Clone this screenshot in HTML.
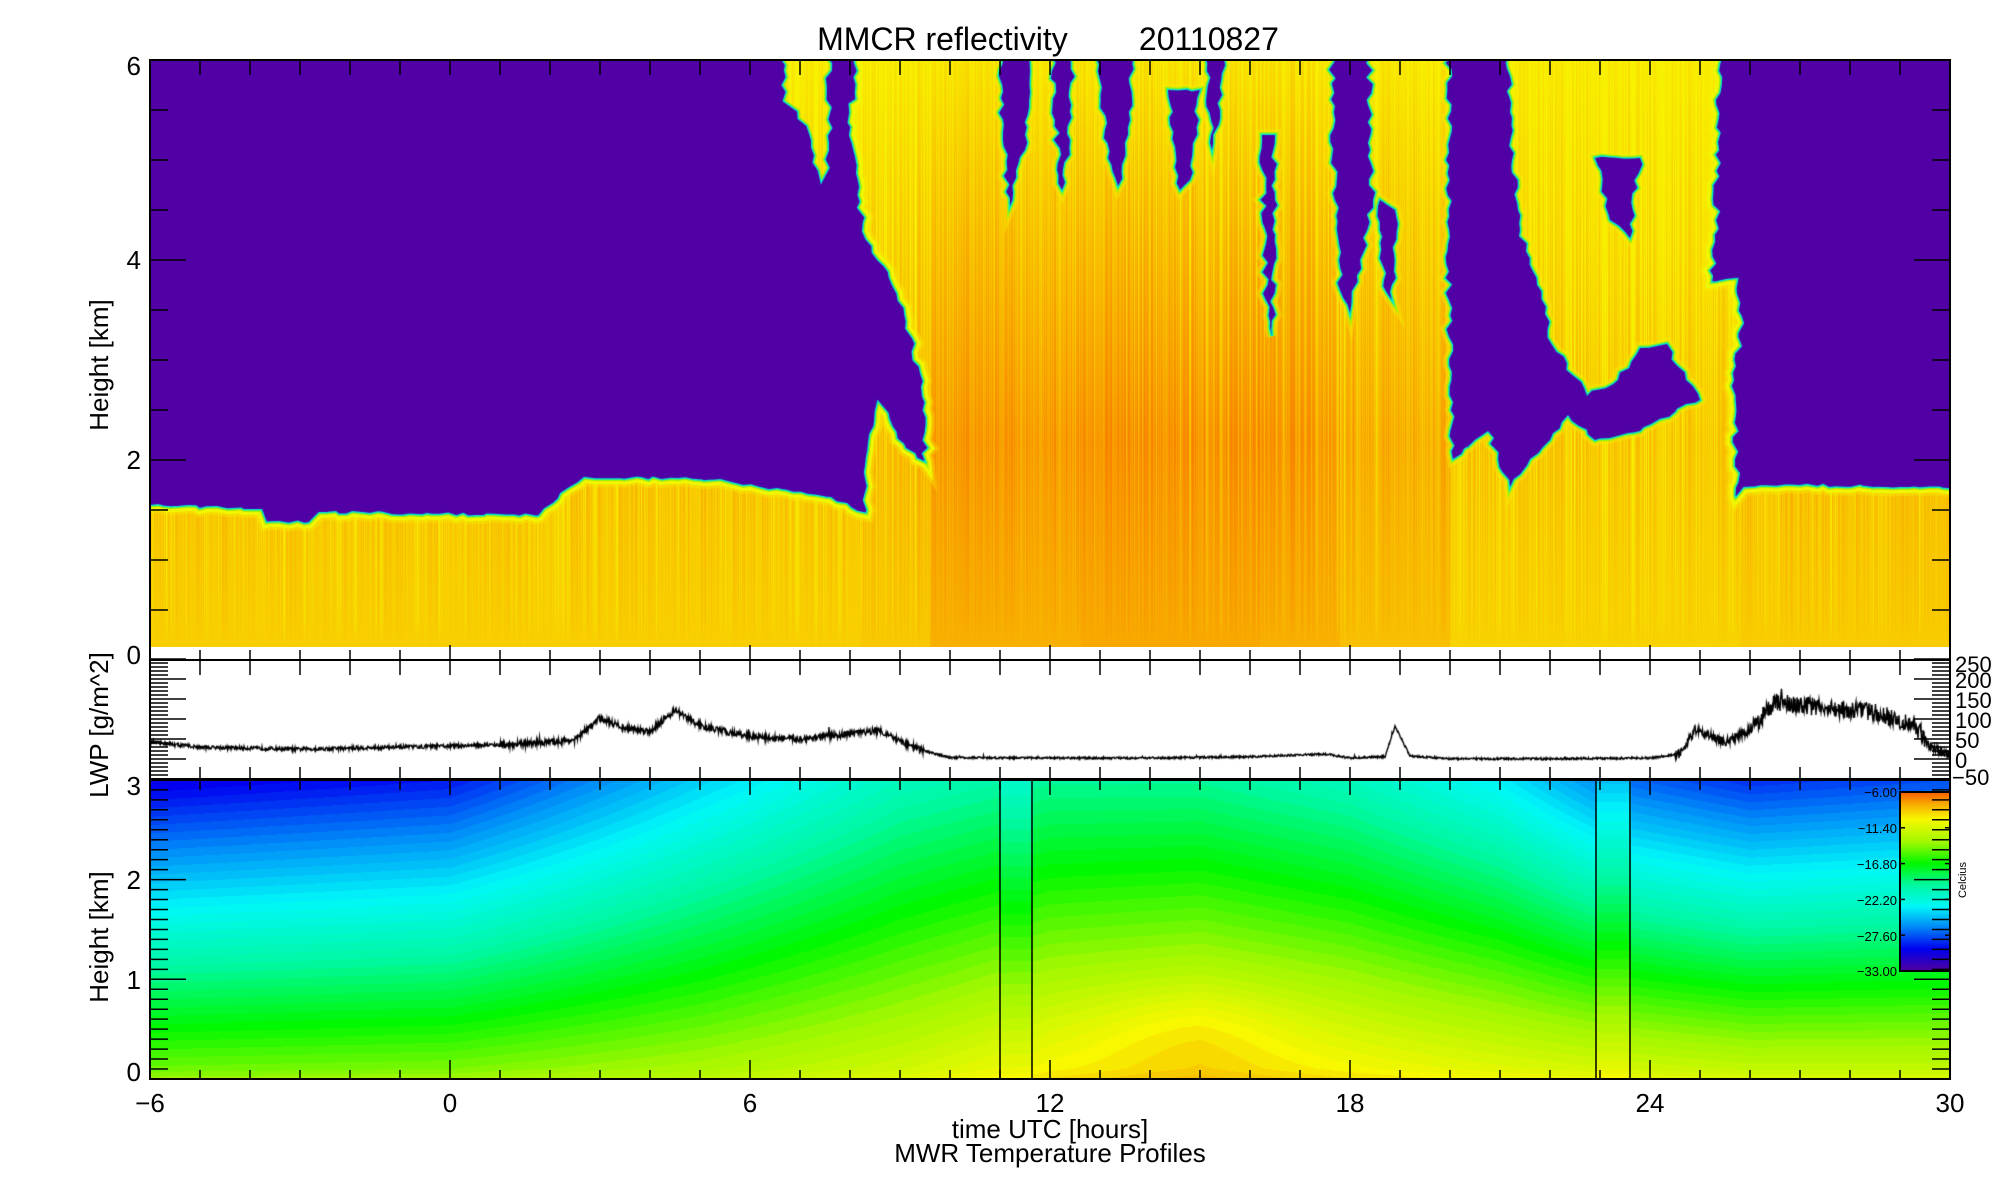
<!DOCTYPE html>
<html><head><meta charset="utf-8">
<style>
html,body{margin:0;padding:0;background:#fff;}
#wrap{position:relative;width:2000px;height:1200px;overflow:hidden;background:#fff;font-family:"Liberation Sans",sans-serif;}
canvas{position:absolute;}
svg{position:absolute;left:0;top:0;}
</style></head><body>
<div id="wrap">
<canvas id="top" width="1800" height="587" style="left:150px;top:60px"></canvas>
<canvas id="lwp" width="1800" height="119" style="left:150px;top:660px"></canvas>
<canvas id="tmp" width="1800" height="299" style="left:150px;top:780px"></canvas>
<canvas id="cb" width="50" height="179" style="left:1900px;top:792px"></canvas>
<svg width="2000" height="1200" xmlns="http://www.w3.org/2000/svg" font-family="Liberation Sans, sans-serif">
<g id="ticks" stroke="#000" stroke-width="1.5"></g>
<g fill="none" stroke="#000" stroke-width="2">
<rect x="150" y="60" width="1800" height="600"/>
<rect x="150" y="660" width="1800" height="119"/>
<rect x="150" y="780" width="1800" height="299"/>
<rect x="1900" y="792" width="50" height="179"/>
</g>
<g stroke="#000" stroke-width="1.5">
<line x1="1000" y1="780" x2="1000" y2="1079"/><line x1="1032" y1="780" x2="1032" y2="1079"/>
<line x1="1596" y1="780" x2="1596" y2="1079"/><line x1="1630" y1="780" x2="1630" y2="1079"/>
</g>
<text x="1048" y="50" font-size="32" text-anchor="middle" xml:space="preserve">MMCR reflectivity        20110827</text>
<g font-size="26" text-anchor="end">
<text x="141" y="75">6</text><text x="141" y="269">4</text><text x="141" y="469">2</text><text x="141" y="664">0</text>
<text x="141" y="795">3</text><text x="141" y="889">2</text><text x="141" y="989">1</text><text x="141" y="1081">0</text>
</g>
<g font-size="26" text-anchor="middle">
<text x="150" y="1112">−6</text><text x="450" y="1112">0</text><text x="750" y="1112">6</text><text x="1050" y="1112">12</text><text x="1350" y="1112">18</text><text x="1650" y="1112">24</text><text x="1950" y="1112">30</text>
<text x="1050" y="1138">time UTC [hours]</text>
<text x="1050" y="1162">MWR Temperature Profiles</text>
</g>
<g font-size="22">
<text x="1955" y="672">250</text><text x="1955" y="688">200</text><text x="1955" y="708">150</text><text x="1955" y="728">100</text><text x="1955" y="748">50</text><text x="1955" y="768">0</text><text x="1952" y="785">−50</text>
</g>
<g font-size="26" text-anchor="middle">
<text transform="translate(108,365) rotate(-90)">Height [km]</text>
<text transform="translate(108,725) rotate(-90)">LWP [g/m^2]</text>
<text transform="translate(108,937) rotate(-90)">Height [km]</text>
</g>
<g font-size="13" text-anchor="end">
<text x="1897" y="797">−6.00</text><text x="1897" y="833">−11.40</text><text x="1897" y="869">−16.80</text><text x="1897" y="905">−22.20</text><text x="1897" y="941">−27.60</text><text x="1897" y="976">−33.00</text>
</g>
<text transform="translate(1966,880) rotate(-90)" font-size="11" text-anchor="middle">Celcius</text>
</svg>
</div>
<script>
var seed=12345;function rnd(){seed=(seed*16807)%2147483647;return (seed-1)/2147483646;}
function interp(keys,h){for(var i=0;i<keys.length-1;i++){if(h<=keys[i+1][0]){var t=(h-keys[i][0])/(keys[i+1][0]-keys[i][0]);var o=[];for(var j=1;j<keys[i].length;j++)o.push(keys[i][j]+(keys[i+1][j]-keys[i][j])*t);return o;}}var l=keys[keys.length-1];return l.slice(1);}
var tk=document.getElementById('ticks'),s='';
function L(x1,y1,x2,y2){s+='<line x1="'+x1+'" y1="'+y1+'" x2="'+x2+'" y2="'+y2+'"/>';}
for(var h=0;h<=36;h++){var x=150+h*50,maj=(h%6==0);
 L(x,60,x,75);L(x,660,x,maj?645:650);L(x,660,x,675);L(x,779,x,767);L(x,781,x,maj?795:790);L(x,1079,x,maj?1060:1070);}
for(var k=0;k<=12;k++){var y=60+k*50,len=(k%4==0)?36:18;L(150,y,150+len,y);L(1950,y,1950-len,y);}
for(var v=-50;v<=250;v+=10){var y=779-(v+50)*0.4,len=(v%50==0)?36:18;L(150,y,150+len,y);L(1950,y,1950-len,y);}
for(var k=0;k<=30;k++){var y=1079-k*9.97,len=(k%10==0)?36:18;L(150,y,150+len,y);L(1950,y,1950-len,y);}
for(var k=0;k<=5;k++){var y=792+k*35.8;L(1900,y,1905,y);L(1950,y,1945,y);}
tk.innerHTML=s;
var cm=[[0,80,0,160],[0.12,0,0,240],[0.25,0,144,248],[0.36,0,248,248],[0.48,0,248,160],[0.6,0,248,0],[0.72,160,248,0],[0.85,248,248,0],[0.93,248,176,0],[1,248,96,0]];
function cmap(f){f=Math.max(0,Math.min(1,f));return interp(cm,f);}
(function(){var c=document.getElementById('cb').getContext('2d');for(var y=0;y<179;y++){var o=cmap(1-y/178);c.fillStyle='rgb('+(o[0]|0)+','+(o[1]|0)+','+(o[2]|0)+')';c.fillRect(0,y,50,1);}})();
(function(){var c=document.getElementById('tmp').getContext('2d');var W=1800,H=299;var im=c.createImageData(W,H);
var K=[[-6,.70,.20],[0,.71,.19],[5,.75,.145],[9,.80,.12],[12,.86,.125],[15,.89,.135],[18,.86,.14],[21,.83,.16],[23.6,.81,.20],[26,.79,.21],[30,.79,.20]];
for(var x=0;x<W;x++){var X=x+150,h=x/50-6,sg;
 if(X>=1000&&X<=1032)sg=[.84,.14];else if(X>=1596&&X<=1630)sg=[.84,.18];else sg=interp(K,h);
 for(var y=0;y<H;y++){var z=(H-1-y)/99.7;var f=sg[0]-sg[1]*z;
  var b=Math.exp(-Math.pow((h-14.8)/2.2,2)-Math.pow((z-0.5)/0.45,2));f+=0.04*b;
  if(z<0.1)f+=0.015*(1-z/0.1);
  f=Math.round(f*60)/60;var o=cmap(f);var i=(y*W+x)*4;im.data[i]=o[0];im.data[i+1]=o[1];im.data[i+2]=o[2];im.data[i+3]=255;}}
c.putImageData(im,0,0);})();
(function(){var c=document.getElementById('lwp').getContext('2d');
var K=[[-6,45],[-5,32],[-3,27],[-1,32],[0,35],[1.5,40],[2.5,50],[3,105],[3.5,80],[4,72],[4.5,125],[5,85],[6,58],[7,52],[8,65],[8.6,75],[9,45],[9.5,22],[10,6],[12,5],[14,5],[16,8],[17.5,15],[18,5],[18.7,8],[18.9,85],[19.2,10],[20,3],[22,3],[24,5],[24.6,15],[24.9,75],[25.5,45],[26,75],[26.5,145],[27.5,130],[28.5,120],[29.3,85],[29.6,35],[30,12]];
c.strokeStyle='#000';c.lineWidth=1.4;c.beginPath();
for(var x=0;x<=1800;x+=0.5){var h=x/50-6;var v=interp(K,h)[0];var a=(h>26&&h<29.5)?45:(h>1&&h<9.5)?16:(h>24.5)?22:(h>9.5&&h<24.5)?5:9;
 v+=a*(rnd()-0.5)+(rnd()<0.01?a*rnd():0);var y=(250-v)*0.4;if(x==0)c.moveTo(x,y);else c.lineTo(x,y);}
c.stroke();})();
(function(){var cv=document.getElementById('top'),c=cv.getContext('2d');c.fillStyle='#5000a4';c.fillRect(0,0,1800,587);
function rough(pts){var o=[];for(var i=0;i<pts.length;i++){var a=pts[i],b=pts[(i+1)%pts.length];o.push(a);
 var d=Math.hypot(b[0]-a[0],b[1]-a[1]);var n=Math.floor(d/7);for(var k=1;k<n;k++){var t=k/n;var jx=(rnd()-0.5)*7,jy=(rnd()-0.5)*3;
 var x=a[0]+(b[0]-a[0])*t,y=a[1]+(b[1]-a[1])*t;if(y<50||y>650||x<150||x>1950){jx=0;jy=0;}o.push([x+jx,y+jy]);}}return o;}
function path(pts){for(var i=0;i<pts.length;i++){var p=pts[i];if(i==0)c.moveTo(p[0]-150,p[1]-60);else c.lineTo(p[0]-150,p[1]-60);}c.closePath();}
function P(pts){c.beginPath();path(pts);}
var main=rough([[120,700],[120,508],[150,508],[260,512],[265,525],[310,525],[320,515],[540,518],[555,505],[570,490],[585,480],[720,482],[760,490],[830,500],[850,510],[868,516],[872,435],[879,406],[887,420],[895,440],[915,460],[929,470],[925,396],[914,336],[895,285],[868,238],[852,135],[864,20],[1717,20],[1713,220],[1709,285],[1735,281],[1739,317],[1731,380],[1735,502],[1745,490],[1800,488],[1900,490],[1980,492],[1980,700]]);
var piece=rough([[784,20],[826,20],[826,150],[822,176],[814,140],[800,110],[786,100]]);
var holes=[
[[1331,20],[1369,20],[1370,150],[1373,200],[1360,260],[1350,313],[1340,290],[1335,200]],
[[1449,20],[1507,20],[1512,160],[1520,230],[1537,285],[1552,345],[1587,396],[1618,380],[1640,348],[1667,344],[1686,380],[1700,400],[1686,404],[1640,431],[1595,440],[1568,415],[1550,440],[1530,459],[1510,487],[1488,431],[1453,459],[1449,300]],
[[998,20],[1030,20],[1025,150],[1010,206],[1003,140]],
[[1051,20],[1074,20],[1070,140],[1062,190],[1055,120]],
[[1097,20],[1135,20],[1130,120],[1118,186],[1105,130]],
[[1168,90],[1200,90],[1190,180],[1180,190]],
[[1262,135],[1275,135],[1272,336],[1266,300]],
[[1595,158],[1640,158],[1630,238],[1610,220]],
[[1205,20],[1225,20],[1220,110],[1212,150]],
[[1380,200],[1395,210],[1392,300],[1384,280]]].map(rough);
[main,piece].forEach(function(p){P(p);c.lineWidth=6;c.strokeStyle='#00e8d0';c.stroke();c.lineWidth=3;c.strokeStyle='#a8f000';c.stroke();});
function lev(X){if(X<860)return .45;if(X<930)return .55;if(X<1340)return (X>1080&&X<1260)?.95:.85;if(X<1450)return .65;if(X<1740)return .4;return .5;}
c.save();c.beginPath();path(main);path(piece);c.clip();
function col(Lv){Lv=Math.max(0,Math.min(1.05,Lv));return 'rgb(248,'+Math.round(242-110*Lv)+',0)';}
for(var x=0;x<1800;x++){var X=x+150,L0=lev(X),j=(rnd()-0.5)*0.4;if(rnd()<0.12)j-=0.3;
 var g=c.createLinearGradient(0,0,0,587);var upr=(X>1440&&X<1740);
 g.addColorStop(0,col(L0*0.15+j*0.6));g.addColorStop(0.3,col(L0*(upr?0.45:0.55)+j));g.addColorStop(0.65,col(L0*0.95+j));g.addColorStop(0.95,col(L0*0.75+j*0.4));g.addColorStop(1,col(L0*0.7));
 c.fillStyle=g;c.fillRect(x,0,1,587);}
c.globalAlpha=0.4;c.strokeStyle='#f8f000';c.lineWidth=12;
P(main);c.stroke();holes.forEach(function(p){P(p);c.stroke();});
c.globalAlpha=1;c.lineWidth=6;c.strokeStyle='#f0f800';P(main);c.stroke();holes.forEach(function(p){P(p);c.stroke();});
c.restore();
holes.forEach(function(p){P(p);c.lineWidth=6;c.strokeStyle='#a8f000';c.stroke();c.lineWidth=3;c.strokeStyle='#00e8d0';c.stroke();c.fillStyle='#5000a4';c.fill();});
})();
</script>
</body></html>
